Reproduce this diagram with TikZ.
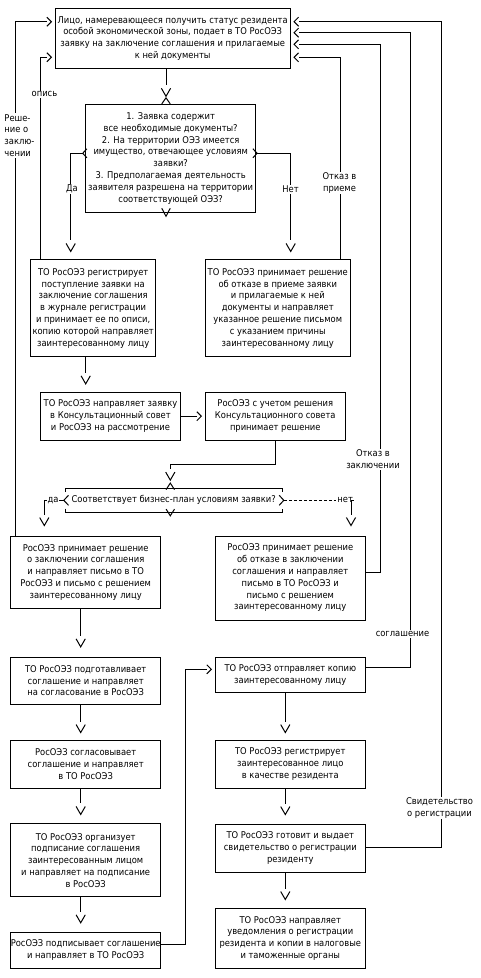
\documentclass[tikz,border=0pt]{standalone}
\usepackage{fontspec}
\setmainfont{DejaVu Sans Condensed}
\usetikzlibrary{arrows.meta}
\newcommand{\fs}{\fontsize{9.3}{11.8}\selectfont}
\pgfdeclarearrow{
  name = VChev,
  setup code = {
    \pgfarrowssettipend{0pt}
    \pgfarrowssetlineend{-11pt}
    \pgfarrowssetbackend{-8pt}
    \pgfarrowshullpoint{0pt}{0pt}
    \pgfarrowsupperhullpoint{-8pt}{4.6pt}
  },
  drawing code = {
    \pgfsetdash{}{0pt}
    \pgfpathmoveto{\pgfqpoint{-8pt}{4.6pt}}
    \pgfpathlineto{\pgfqpoint{0pt}{0pt}}
    \pgfpathlineto{\pgfqpoint{-8pt}{-4.6pt}}
    \pgfusepathqstroke
  }
}
\pgfdeclarearrow{
  name = HChev,
  setup code = {
    \pgfarrowssettipend{0pt}
    \pgfarrowssetlineend{-4.5pt}
    \pgfarrowssetbackend{-4.5pt}
    \pgfarrowshullpoint{0pt}{0pt}
    \pgfarrowsupperhullpoint{-4.5pt}{4.5pt}
  },
  drawing code = {
    \pgfsetdash{}{0pt}
    \pgfpathmoveto{\pgfqpoint{-4.5pt}{4.5pt}}
    \pgfpathlineto{\pgfqpoint{0pt}{0pt}}
    \pgfpathlineto{\pgfqpoint{-4.5pt}{-4.5pt}}
    \pgfusepathqstroke
  }
}
\begin{document}
\begin{tikzpicture}[x=1pt,y=-1pt,line width=1pt,
  box/.style={draw,rectangle,inner sep=0pt,align=center,font=\fs},
  lab/.style={fill=white,inner sep=1pt,align=center,font=\fs},
  va/.style={-{VChev},shorten >=8pt},
  ha/.style={-{HChev},shorten >=3.5pt},
  chev/.style={line width=1pt}]
\useasboundingbox[fill=white] (0,0) rectangle (480,978);
% boxes
\node[box,minimum width=234.7pt,minimum height=60pt] (B1) at (172.7,38.3)
 {Лицо, намеревающееся получить статус резидента\\особой экономической зоны, подает в ТО РосОЭЗ\\заявку на заключение соглашения и прилагаемые\\к ней документы};
\node[box,minimum width=170pt,minimum height=108pt] (D1) at (170.7,158.3)
 {1. Заявка содержит\\все необходимые документы?\\2. На территории ОЭЗ имеется\\имущество, отвечающее условиям\\заявки?\\3. Предполагаемая деятельность\\заявителя разрешена на территории\\соответствующей ОЭЗ?};
\node[box,minimum width=125pt,minimum height=96.7pt] (B2) at (93.2,308.3)
 {ТО РосОЭЗ регистрирует\\поступление заявки на\\заключение соглашения\\в журнале регистрации\\и принимает ее по описи,\\копию которой направляет\\заинтересованному лицу};
\node[box,minimum width=145pt,minimum height=96.7pt] (B3) at (277.8,308.3)
 {ТО РосОЭЗ принимает решение\\об отказе в приеме заявки\\и прилагаемые к ней\\документы и направляет\\указанное решение письмом\\с указанием причины\\заинтересованному лицу};
\node[box,minimum width=140.4pt,minimum height=47.7pt] (B4) at (110.5,416.2)
 {ТО РосОЭЗ направляет заявку\\в Консультационный совет\\и РосОЭЗ на рассмотрение};
\node[box,minimum width=140pt,minimum height=47.7pt] (B5) at (275.3,416.2)
 {РосОЭЗ с учетом решения\\Консультационного совета\\принимает решение};
\node[box,draw=none,minimum width=216pt,minimum height=23.4pt] (D2) at (173.7,500.3)
 {Соответствует бизнес-план условиям заявки?};
\node[box,minimum width=150pt,minimum height=72.3pt] (B6) at (85.7,572.2)
 {РосОЭЗ принимает решение\\о заключении соглашения\\и направляет письмо в ТО\\РосОЭЗ и письмо с решением\\заинтересованному лицу};
\node[box,minimum width=150pt,minimum height=84pt] (B7) at (290.3,578)
 {РосОЭЗ принимает решение\\об отказе в заключении\\соглашения и направляет\\письмо в ТО РосОЭЗ и\\письмо с решением\\заинтересованному лицу};
\node[box,minimum width=150pt,minimum height=46.7pt] (B8) at (85.7,680.7)
 {ТО РосОЭЗ подготавливает\\соглашение и направляет\\на согласование в РосОЭЗ};
\node[box,minimum width=150pt,minimum height=48.3pt] (B9) at (85.7,764.2)
 {РосОЭЗ согласовывает\\соглашение и направляет\\в ТО РосОЭЗ};
\node[box,minimum width=150pt,minimum height=72.7pt] (B10) at (85.7,860.3)
 {ТО РосОЭЗ организует\\подписание соглашения\\заинтересованным лицом\\и направляет на подписание\\в РосОЭЗ};
\node[box,minimum width=150pt,minimum height=36pt] (B11) at (85.7,950.3)
 {РосОЭЗ подписывает соглашение\\и направляет в ТО РосОЭЗ};
\node[box,minimum width=150pt,minimum height=35pt] (B12) at (290.3,674.8)
 {ТО РосОЭЗ отправляет копию\\заинтересованному лицу};
\node[box,minimum width=150pt,minimum height=48.3pt] (B13) at (290.3,764.2)
 {ТО РосОЭЗ регистрирует\\заинтересованное лицо\\в качестве резидента};
\node[box,minimum width=150pt,minimum height=48.3pt] (B14) at (290.3,848.2)
 {ТО РосОЭЗ готовит и выдает\\свидетельство о регистрации\\резиденту};
\node[box,minimum width=150pt,minimum height=60pt] (B15) at (290.3,938.3)
 {ТО РосОЭЗ направляет\\уведомления о регистрации\\резидента и копии в налоговые\\и таможенные органы};
% decision 1 markers
\coordinate (d1t) at ([xshift=-6.7pt]B1.south |- D1.north);
\draw[chev] (d1t) ++(-4.2,0) -- ++(4.2,-6) -- ++(4.2,6);
\draw[chev] (D1.south -| d1t) ++(-4.2,-4.5) -- ++(4.2,8) -- ++(4.2,-8);
\draw[chev] ([yshift=5pt]D1.west) ++(1.7,-4.5) -- ++(-4.2,4.5) -- ++(4.2,4.5);
\draw[chev] ([yshift=5pt]D1.east) ++(-3.3,-4.5) -- ++(4.2,4.5) -- ++(-4.2,4.5);
% decision 2 shape
\coordinate (d2t) at ([xshift=-3.4pt]D2.north);
\draw (D2.north west) ++(0,4) -- (D2.north west) -- (D2.north east) -- ++(0,4);
\draw (D2.south west) ++(0,-4) -- (D2.south west) -- (D2.south east) -- ++(0,-4);
\draw[chev] (d2t) ++(-4.2,1.5) -- ++(4.2,-6.5) -- ++(4.2,6.5);
\draw[chev] (D2.south -| d2t) ++(-4.2,-3.4) -- ++(4.2,6.7) -- ++(4.2,-6.7);
\draw[chev] (D2.west) ++(3.3,-5) -- ++(-4.7,5) -- ++(4.7,5);
\draw[chev] (D2.east) ++(-3,-5) -- ++(4.6,5) -- ++(-4.6,5);
% connectors
\draw[va,shorten >=7.5pt] ([xshift=-6.7pt]B1.south) -- (d1t);
\draw[va] ([xshift=-2.5pt,yshift=5pt]D1.west) -| ([xshift=-22.5pt]B2.north);
\draw[va] ([xshift=1pt,yshift=5pt]D1.east) -| ([xshift=12.9pt]B3.north);
\draw[ha] ([xshift=62.2pt]B3.north) |- ([yshift=-19pt]B1.east);
\draw[ha] ([xshift=-52.5pt]B2.north) |- ([yshift=-19pt]B1.west);
\draw[ha] ([xshift=-70.7pt]B6.north) |- ([yshift=16.6pt]B1.west);
\draw[va] ([xshift=-7.5pt]B2.south) -- ([xshift=-7.5pt]B2.south |- B4.north);
\draw[ha] (B4.east) -- (B5.west);
\draw[va] (B5.south) -- ++(0,24.3) -| (d2t);
\draw[va,shorten >=10pt] ([xshift=-1.4pt]D2.west) -| ([xshift=-41.4pt]B6.north);
\node[lab,inner sep=0.5pt] (lnet) at (345.2,500.3) {нет};
\draw[dash pattern=on 3.5pt off 1.5pt] ([xshift=1.6pt]D2.east) -- (lnet.west);
\draw[va,shorten >=10pt] (lnet.east) -| ([xshift=60.7pt]B7.north);
\draw[ha] ([yshift=5.7pt]B7.east) -- ++(14.7,0) |- ([yshift=-6pt]B1.east);
\draw[va,shorten >=10pt] ([xshift=-5pt]B6.south) -- ([xshift=-5pt]B6.south |- B8.north);
\draw[va,shorten >=7pt] ([xshift=-5pt]B8.south) -- ([xshift=-5pt]B8.south |- B9.north);
\draw[va,shorten >=9pt] ([xshift=-5pt]B9.south) -- ([xshift=-5pt]B9.south |- B10.north);
\draw[va,shorten >=9pt] ([xshift=-5pt]B10.south) -- ([xshift=-5pt]B10.south |- B11.north);
\draw[ha] ([yshift=6.3pt]B11.east) -- ++(24.3,0) |- ([yshift=5.5pt]B12.west);
\draw[va,shorten >=7pt] ([xshift=-5pt]B12.south) -- ([xshift=-5pt]B12.south |- B13.north);
\draw[va,shorten >=9pt] ([xshift=-5pt]B13.south) -- ([xshift=-5pt]B13.south |- B14.north);
\draw[va,shorten >=8.3pt] ([xshift=-5pt]B14.south) -- ([xshift=-5pt]B14.south |- B15.north);
\draw[ha] ([yshift=7.1pt]B12.east) -- ++(44.7,0) |- ([yshift=5.6pt]B1.east);
\draw[ha] ([yshift=0.5pt]B14.east) -- ++(75.4,0) |- ([yshift=16.6pt]B1.east);
% labels
\node[lab] (lda1) at (72,189.3) {Да};
\node[lab] (lnet1) at (290.5,189.3) {Нет};
\node[lab] (lotk1) at (339.5,183) {Отказ в\\приеме};
\node[lab] (lopis) at (44.5,94.3) {опись};
\node[lab,align=left] (lresh) at (19.5,135.5) {Реше-\\ние о\\заклю-\\чении};
\node[lab] (lotk2) at (373,459.5) {Отказ в\\заключении};
\node[lab] (lsogl) at (402.5,634) {соглашение};
\node[lab] (lsvid) at (439.5,808) {Свидетельство\\о регистрации};
\node[lab,inner sep=0.5pt] (lda2) at (53,500.3) {да};
\end{tikzpicture}
\end{document}
